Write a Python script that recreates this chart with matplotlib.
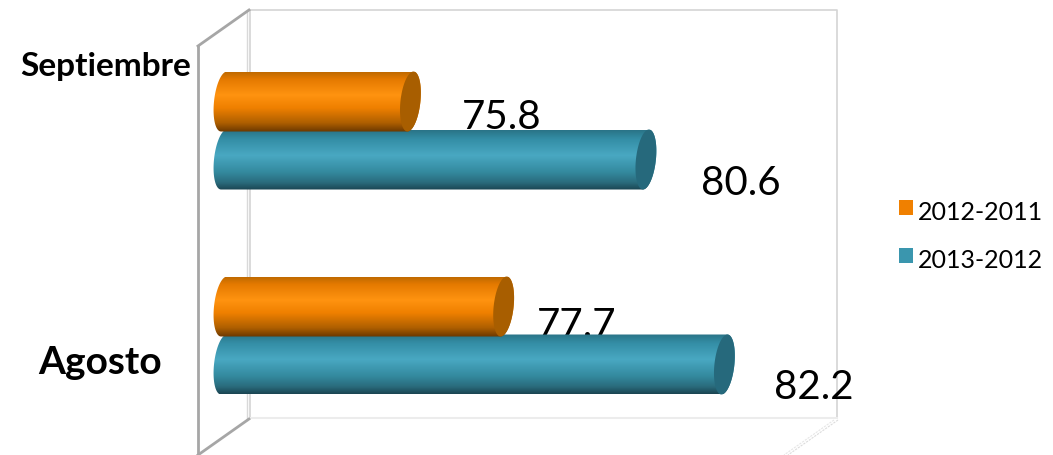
import matplotlib
matplotlib.use('Agg')
import matplotlib.pyplot as plt
import numpy as np
from matplotlib.colors import LinearSegmentedColormap
from matplotlib.patches import Patch, Polygon

categories = ['Agosto', 'Septiembre']
series_names = ['2012-2011', '2013-2012']
values_2012 = [77.7, 75.8]
values_2013 = [82.2, 80.6]

W, H = 1053, 455
base_value = 72.0
px_per_unit = 49.06
px_per_cat = 205.0

orange_stops = [(0, '#c06a00'), (0.12, '#e57a00'), (0.38, '#ff9310'), (0.6, '#ef8000'),
                (0.85, '#ae5f00'), (1, '#6b3800')]
teal_stops = [(0, '#2a7487'), (0.15, '#348ea6'), (0.42, '#49a8c2'), (0.7, '#348a9f'),
              (0.88, '#2a6b7c'), (1, '#1b4552')]
orange_cmap = LinearSegmentedColormap.from_list('orange3d', orange_stops)
teal_cmap = LinearSegmentedColormap.from_list('teal3d', teal_stops)
orange_cap = '#a85e00'
teal_cap = '#26697c'
orange_flat = '#f08000'
teal_flat = '#3a96ae'

plt.rcParams['font.family'] = ['Lato', 'DejaVu Sans']

fig = plt.figure(figsize=(W / 100, H / 100), dpi=100)

# wall and floor of the 3d box, in pixels
bg = fig.add_axes([0, 0, 1, 1], zorder=0)
bg.set_xlim(0, W)
bg.set_ylim(H, 0)
bg.axis('off')
bg.plot([250, 250, 837, 837], [418, 10, 10, 418], color='#d4d4d4', lw=1.2)
bg.plot([247, 247], [12, 420], color='#d9d9d9', lw=1)
bg.plot([250, 837], [418, 418], color='#ececec', lw=1.5)
bg.plot([198, 198], [46, H], color='#a6a6a6', lw=2)
bg.plot([198, 249], [46, 10], color='#a6a6a6', lw=2)
bg.plot([198, 249], [H, 419], color='#a6a6a6', lw=2)
bg.plot([838, 788], [420, H], color='#dcdcdc', lw=0.8, ls=(0, (2, 1)))
bg.plot([834, 784], [420, H], color='#e6e6e6', lw=0.8, ls=(0, (2, 1)))

ax = fig.add_axes([0, 0, 1, 1], zorder=1)
ax.patch.set_alpha(0)
ax.axis('off')


def ellipse(xc, yc, h, t):
    # tilted end of the cylinder, sizes converted from pixels to data units
    xs = xc + (10 * np.cos(t) + 3 * np.sin(t)) / px_per_unit
    ys = yc + h / 2 * np.sin(t)
    return np.column_stack([xs, ys])


def cylinder(value, yc, h, cmap, cap):
    left = ellipse(base_value, yc, h, np.linspace(np.pi / 2, 3 * np.pi / 2, 40))
    right = ellipse(value, yc, h, np.linspace(3 * np.pi / 2, 5 * np.pi / 2, 40))
    body = Polygon(np.vstack([left, right]), closed=True, fc='none', ec='none', zorder=3)
    ax.add_patch(body)
    grad = np.linspace(0, 1, 128).reshape(-1, 1)
    x0 = base_value - 0.4
    im = ax.imshow(grad, cmap=cmap, aspect='auto', zorder=3, origin='upper',
                   extent=[x0, value + 0.4, yc - h / 2, yc + h / 2])
    im.set_clip_path(body)
    full = ellipse(value, yc, h, np.linspace(0, 2 * np.pi, 80))
    ax.add_patch(Polygon(full, closed=True, fc=cap, ec='none', zorder=3.1))


bar_h = 60 / px_per_cat
shift = 29 / px_per_cat
y_pos = np.arange(len(categories))

for i in y_pos:
    cylinder(values_2013[i], i - shift, bar_h, teal_cmap, teal_cap)
    cylinder(values_2012[i], i + shift, bar_h, orange_cmap, orange_cap)

# value labels sit under the bars, the teal bar cuts the orange label
label_dx = [(73, 91), (89, 95)]
label_dy = [(-19, -16), (-23, -24)]
for i in y_pos:
    ax.annotate(f'{values_2012[i]:.1f}', (values_2012[i], i + shift), xytext=(label_dx[0][i] * 0.72, label_dy[0][i] * 0.72),
                textcoords='offset points', ha='center', va='center', fontsize=29, color='black', zorder=2)
    ax.annotate(f'{values_2013[i]:.1f}', (values_2013[i], i - shift), xytext=(label_dx[1][i] * 0.72, label_dy[1][i] * 0.72),
                textcoords='offset points', ha='center', va='center', fontsize=29, color='black', zorder=2)

cat_x = [100, 106]
cat_dy = [-27, 64]
cat_size = [28, 24]
for i in y_pos:
    ax.annotate(categories[i], (base_value, i), xytext=((cat_x[i] - 224) * 0.72, cat_dy[i] * 0.72),
                textcoords='offset points', ha='center', va='center', fontsize=cat_size[i],
                fontweight='bold', color='black', zorder=4)

ax.set_xlim(base_value - 224 / px_per_unit, base_value + (W - 224) / px_per_unit)
ax.set_ylim(-(H - 335.5) / px_per_cat, 1 + 130.5 / px_per_cat)

handles = [Patch(fc=orange_flat, ec='none'), Patch(fc=teal_flat, ec='none')]
leg = ax.legend(handles, series_names, loc='center left', bbox_to_anchor=(899 / W, 1 - 236 / H),
                frameon=False, fontsize=18, handlelength=0.56, handleheight=0.56, handletextpad=0.2,
                labelspacing=1.0, borderpad=0, borderaxespad=0)
# squares sit a little above the text in the reference
for h in leg.legend_handles:
    h.set_y(h.get_y() + 2.5)

fig.savefig('out.png', dpi=100)
